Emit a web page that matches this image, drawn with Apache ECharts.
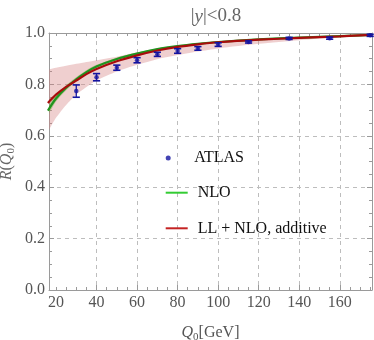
<!DOCTYPE html>
<html>
<head>
<meta charset="utf-8">
<script src="https://cdn.jsdelivr.net/npm/echarts@6/dist/echarts.min.js"></script>
<style>
  html, body { margin: 0; padding: 0; background: #fff; }
  #chart { width: 374px; height: 340px; }
</style>
</head>
<body>
<div id="chart"></div>
<script>
const SERIF = '"Liberation Serif", "DejaVu Serif", serif';
const AXIS = "#9a9a9a";
const BLUE = "#1414a0";

// x range of the frame (not a multiple of the tick step, so ticks are custom)
const X_MIN = 16.55;
const X_MAX = 175.9;

// tick / label positions
const xLabels = [20, 40, 60, 80, 100, 120, 140, 160];
const xMajor = [40, 60, 80, 100, 120, 140, 160];
const xMinor = [20, 25, 30, 35, 45, 50, 55, 65, 70, 75, 85, 90, 95, 105, 110, 115,
  125, 130, 135, 145, 150, 155, 165, 170, 175];

// theory curves, sampled at these Q0 values
const curveX = [16.0, 20, 25, 30, 35, 40, 50, 60, 70, 80, 90, 100, 120, 140, 160, 176];
const nloY = [0.698, 0.745, 0.787, 0.820, 0.848, 0.870, 0.899, 0.920, 0.937, 0.949, 0.958, 0.965, 0.975, 0.982, 0.988, 0.993];
const nloLow = [0.682, 0.733, 0.777, 0.812, 0.841, 0.864, 0.894, 0.916, 0.934, 0.947, 0.956, 0.963, 0.974, 0.981, 0.987, 0.992];
const nloHigh = [0.715, 0.758, 0.797, 0.828, 0.855, 0.876, 0.904, 0.924, 0.940, 0.951, 0.960, 0.967, 0.976, 0.983, 0.989, 0.994];
const llY = [0.728, 0.760, 0.790, 0.815, 0.840, 0.860, 0.890, 0.913, 0.932, 0.946, 0.956, 0.964, 0.974, 0.981, 0.987, 0.993];
const llLow = [0.622, 0.670, 0.720, 0.760, 0.790, 0.815, 0.850, 0.876, 0.898, 0.914, 0.928, 0.940, 0.958, 0.972, 0.983, 0.990];
const llHigh = [0.853, 0.865, 0.873, 0.880, 0.887, 0.894, 0.908, 0.925, 0.940, 0.952, 0.961, 0.968, 0.977, 0.984, 0.989, 0.994];

// ATLAS points with symmetric errors
const atlasX = [30, 40, 50, 60, 70, 80, 90, 100, 115, 135, 155, 175];
const atlasY = [0.774, 0.828, 0.865, 0.894, 0.917, 0.930, 0.940, 0.955, 0.965, 0.979, 0.980, 0.991];
const atlasErr = [0.024, 0.014, 0.010, 0.010, 0.008, 0.009, 0.007, 0.007, 0.004, 0.004, 0.004, 0.004];

const pairs = (xs, ys) => xs.map((x, i) => [x, ys[i]]);
const triples = (xs, lo, hi) => xs.map((x, i) => [x, lo[i], hi[i]]);

// one filled polygon per band: upper edge forward, lower edge back
function bandSeries(name, lo, hi, fill, z) {
  const data = triples(curveX, lo, hi);
  return {
    type: "custom", name, z, silent: true, data,
    encode: { x: 0, y: [1, 2] },
    renderItem: (params, api) => {
      if (params.dataIndex !== 0) return null;
      const up = data.map((d) => api.coord([d[0], d[2]]));
      const dn = data.map((d) => api.coord([d[0], d[1]])).reverse();
      const cs = params.coordSys;
      return {
        type: "polygon",
        shape: { points: up.concat(dn), smooth: 0.25 },
        style: { fill, stroke: null },
        clipPath: { type: "rect", shape: { x: cs.x, y: cs.y, width: cs.width, height: cs.height } },
      };
    },
  };
}

const chart = echarts.init(document.getElementById("chart"), null, { renderer: "canvas" });

const GRID = { left: 49, right: 2, top: 33, bottom: 50, outerBoundsMode: "none", containLabel: false };
const legendText = { color: "#111", fontFamily: SERIF, fontSize: 16 };

chart.setOption({
  animation: false,
  backgroundColor: "#fff",
  title: {
    text: "|{i|y}|<0.8",
    left: 211, top: 2, textAlign: "center",
    textStyle: {
      color: "#666", fontFamily: SERIF, fontSize: 19, fontWeight: "normal",
      rich: { i: { fontStyle: "italic", color: "#666", fontFamily: SERIF, fontSize: 19 } },
    },
  },
  legend: [
    {
      left: 160.7, top: 145, itemWidth: 12, itemHeight: 5,
      data: [{ name: "ATLAS", icon: "circle" }],
      textStyle: Object.assign({ padding: [0, 0, 0, 15] }, legendText),
    },
    {
      left: 160.7, top: 179.7, itemWidth: 22, itemHeight: 2,
      data: [{ name: "NLO", icon: "rect", itemStyle: { color: "#33cc33" } }],
      textStyle: Object.assign({ padding: [0, 0, 0, 5] }, legendText),
    },
    {
      left: 160.7, top: 215.3, itemWidth: 22, itemHeight: 2,
      data: [{ name: "LL + NLO, additive", icon: "rect", itemStyle: { color: "#c42222" } }],
      textStyle: Object.assign({ padding: [0, 0, 0, 5] }, legendText),
    },
  ],
  grid: [GRID, GRID],
  xAxis: [
    {
      gridIndex: 0, type: "value", min: X_MIN, max: X_MAX, position: "bottom",
      axisLine: { onZero: false, lineStyle: { color: AXIS } },
      axisTick: { inside: true, length: 5, customValues: xMajor, lineStyle: { color: AXIS } },
      axisLabel: { customValues: xLabels, color: "#555", fontFamily: SERIF, fontSize: 16, margin: 5 },
      splitLine: { show: true, lineStyle: { color: "#bdbdbd", type: [4, 4] } },
      name: "{i|Q}{s|0}[GeV]", nameLocation: "middle", nameGap: 33,
      nameTextStyle: {
        color: "#555", fontFamily: SERIF, fontSize: 16,
        rich: {
          i: { fontStyle: "italic", fontFamily: SERIF, fontSize: 16, color: "#555", lineHeight: 20 },
          s: { fontFamily: SERIF, fontSize: 11, color: "#555", verticalAlign: "bottom", lineHeight: 20 },
        },
      },
    },
    {
      gridIndex: 0, type: "value", min: X_MIN, max: X_MAX, position: "top",
      axisLine: { onZero: false, lineStyle: { color: AXIS } },
      axisTick: { inside: true, length: 5, customValues: xMajor, lineStyle: { color: AXIS } },
      axisLabel: { show: false }, splitLine: { show: false },
    },
    {
      gridIndex: 1, type: "value", min: X_MIN, max: X_MAX, position: "bottom",
      axisLine: { show: false },
      axisTick: { inside: true, length: 3, customValues: xMinor, lineStyle: { color: AXIS } },
      axisLabel: { show: false }, splitLine: { show: false },
    },
    {
      gridIndex: 1, type: "value", min: X_MIN, max: X_MAX, position: "top",
      axisLine: { show: false },
      axisTick: { inside: true, length: 3, customValues: xMinor, lineStyle: { color: AXIS } },
      axisLabel: { show: false }, splitLine: { show: false },
    },
  ],
  yAxis: [
    {
      gridIndex: 0, type: "value", min: 0, max: 1, interval: 0.2, position: "left",
      axisLine: { show: true, onZero: false, lineStyle: { color: AXIS } },
      axisTick: { inside: true, length: 5, lineStyle: { color: AXIS } },
      minorTick: { show: true, splitNumber: 4, length: 3, lineStyle: { color: AXIS } },
      axisLabel: { color: "#555", fontFamily: SERIF, fontSize: 16, margin: 4, formatter: (v) => v.toFixed(1) },
      splitLine: { show: true, lineStyle: { color: "#bdbdbd", type: [4, 4] } },
      name: "{i|R}({i|Q}{s|0})", nameLocation: "middle", nameGap: 32, nameMoveOverlap: false,
      nameTextStyle: {
        color: "#666", fontFamily: SERIF, fontSize: 16,
        rich: {
          i: { fontStyle: "italic", fontFamily: SERIF, fontSize: 16, color: "#666", lineHeight: 20 },
          s: { fontFamily: SERIF, fontSize: 11, color: "#666", verticalAlign: "bottom", lineHeight: 20 },
        },
      },
    },
    {
      gridIndex: 0, type: "value", min: 0, max: 1, interval: 0.2, position: "right",
      axisLine: { show: true, onZero: false, lineStyle: { color: AXIS } },
      axisTick: { inside: true, length: 5, lineStyle: { color: AXIS } },
      minorTick: { show: true, splitNumber: 4, length: 3, lineStyle: { color: AXIS } },
      axisLabel: { show: false }, splitLine: { show: false },
    },
    { gridIndex: 1, type: "value", min: 0, max: 1, show: false },
  ],
  series: [
    bandSeries("llBand", llLow, llHigh, "rgba(214,130,130,0.38)", 1),
    bandSeries("nloBand", nloLow, nloHigh, "rgba(110,170,60,0.45)", 2),
    {
      type: "line", name: "NLO", data: pairs(curveX, nloY), smooth: 0.3, symbol: "none", z: 3,
      color: "#33cc33",
      lineStyle: { color: "#1f941f", width: 2.2 },
    },
    {
      type: "line", name: "LL + NLO, additive", data: pairs(curveX, llY), smooth: 0.3, symbol: "none", z: 4,
      color: "#c42222",
      lineStyle: { color: "#a80c0c", width: 2.2 },
    },
    {
      type: "custom", name: "atlasErr", z: 5, silent: true,
      data: atlasX.map((x, i) => [x, atlasY[i] - atlasErr[i], atlasY[i] + atlasErr[i]]),
      encode: { x: 0, y: [1, 2] },
      renderItem: (params, api) => {
        const lo = api.coord([api.value(0), api.value(1)]);
        const hi = api.coord([api.value(0), api.value(2)]);
        const w = 3.6;
        return {
          type: "group",
          children: [
            { type: "line", shape: { x1: lo[0], y1: lo[1], x2: hi[0], y2: hi[1] }, style: { stroke: BLUE, lineWidth: 1.3 } },
            { type: "line", shape: { x1: lo[0] - w, y1: lo[1], x2: lo[0] + w, y2: lo[1] }, style: { stroke: BLUE, lineWidth: 1.6 } },
            { type: "line", shape: { x1: hi[0] - w, y1: hi[1], x2: hi[0] + w, y2: hi[1] }, style: { stroke: BLUE, lineWidth: 1.6 } },
          ],
        };
      },
    },
    {
      type: "scatter", name: "ATLAS", data: pairs(atlasX, atlasY), symbolSize: 4.5, z: 6,
      itemStyle: { color: BLUE },
    },
  ],
});
</script>
</body>
</html>
